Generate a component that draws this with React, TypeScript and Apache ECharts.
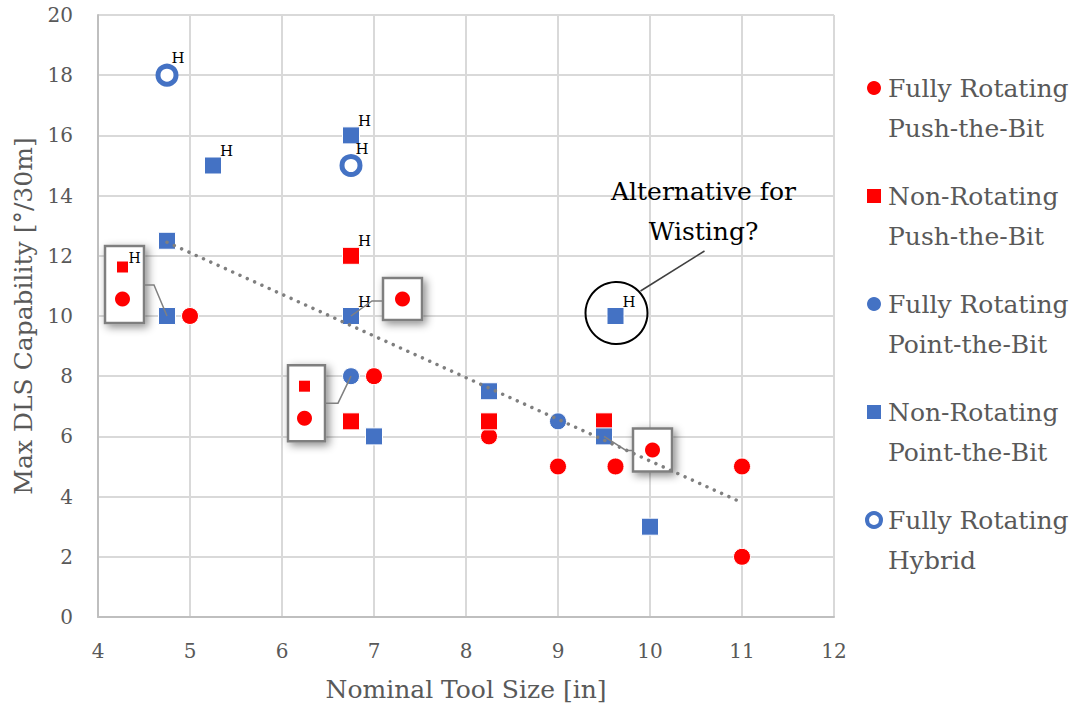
import React, { useEffect, useRef } from "react";
import * as echarts from "echarts";

const FONT = "'DejaVu Serif', serif";
const RED = "#FF0000";
const BLUE = "#4472C4";

const seriesNames = [
  "Fully Rotating\nPush-the-Bit",
  "Non-Rotating\nPush-the-Bit",
  "Fully Rotating\nPoint-the-Bit",
  "Non-Rotating\nPoint-the-Bit",
  "Fully Rotating\nHybrid",
];

type Pt = [number, number, string];
// [tool size in, max DLS deg/30m, label]
const frPush: Pt[] = [
  [4.75, 10, ""], [5, 10, ""], [6.75, 8, ""], [6.75, 10, ""], [7, 8, ""],
  [8.25, 6, ""], [9, 5, ""], [9.5, 6, ""], [9.625, 5, ""], [11, 5, ""], [11, 2, ""],
];
const nrPush: Pt[] = [
  [4.75, 10, "H"], [6.75, 12, "H"], [6.75, 6.5, ""], [6.75, 8, ""], [8.25, 6.5, ""], [9.5, 6.5, ""],
];
const frPoint: Pt[] = [[6.75, 8, ""], [9, 6.5, ""]];
const nrPoint: Pt[] = [
  [4.75, 12.5, ""], [5.25, 15, "H"], [6.75, 16, "H"], [4.75, 10, ""], [6.75, 10, "H"],
  [7, 6, ""], [8.25, 7.5, ""], [9.5, 6, ""], [9.625, 10, "H"], [10, 3, ""],
];
const hybrid: Pt[] = [[4.75, 18, "H"], [6.75, 15, "H"]];

const trendX = [4.75, 11];
const trendY = [12.45, 3.8];

const annotationText = "Alternative for\nWisting?";
const annotatedPoint = [9.625, 10];

const allData = [frPush, nrPush, frPoint, nrPoint, hybrid];
const styles = [
  { symbol: "circle", color: RED, hollow: false },
  { symbol: "rect", color: RED, hollow: false },
  { symbol: "circle", color: BLUE, hollow: false },
  { symbol: "rect", color: BLUE, hollow: false },
  { symbol: "circle", color: BLUE, hollow: true },
];

const same = (a: number[], b: number[]) => a[0] === b[0] && a[1] === b[1];
const isCovered = (si: number, p: number[]) =>
  allData.some((d, j) => j > si && d.some((q) => same(p, q)));

// callout insets: anchor data point, box rect relative to anchor pixel, connector elbow & end
const insets = [
  { at: [4.75, 10], box: [-62, -70, 39, 77], link: [[-13, -31], [-23, -31]] },
  { at: [6.75, 8], box: [-63, -11, 37, 76], link: [[-13, 27], [-26, 27]] },
  { at: [6.75, 10], box: [32, -38, 39, 42], link: [[21, -15], [32, -15]] },
  { at: [9.5, 6], box: [29, -8, 39, 43], link: [[22, 14], [29, 14]] },
];

export default function App() {
  const ref = useRef<HTMLDivElement>(null);
  useEffect(() => {
    if (!ref.current) return;
    const chart = echarts.init(ref.current, undefined, { renderer: "svg" });
    const labelStyle = {
      show: false,
      formatter: "H",
      position: [16, -13],
      fontFamily: FONT,
      fontSize: 15,
      color: "#000",
    };
    const series: any[] = allData.map((d, i) => {
      const st = styles[i];
      return {
        type: "scatter",
        name: seriesNames[i],
        symbol: st.symbol,
        symbolSize: st.hollow ? 18 : 17,
        silent: true,
        itemStyle: st.hollow
          ? { color: "#fff", borderColor: st.color, borderWidth: 5, opacity: 1 }
          : { color: st.color, borderColor: "#fff", borderWidth: 1, opacity: 1 },
        label: labelStyle,
        data: d.map((p) => {
          const covered = isCovered(i, p);
          return {
            value: [p[0], p[1]],
            itemStyle: covered ? { opacity: 0 } : undefined,
            label: { show: p[2] === "H" && !covered },
          };
        }),
        z: 2,
      };
    });
    series.push({
      type: "line",
      name: "trend",
      data: trendX.map((x, i) => [x, trendY[i]]),
      symbol: "none",
      silent: true,
      lineStyle: { color: "#7f7f7f", width: 3.5, type: [0.01, 8], cap: "round" },
      z: 3,
    });

    const axisText = { fontFamily: FONT, fontSize: 20, color: "#595959" };
    chart.setOption({
      animation: false,
      textStyle: { fontFamily: FONT },
      grid: { left: 98, right: 241, top: 15, bottom: 96, containLabel: false },
      xAxis: {
        type: "value",
        min: 4,
        max: 12,
        interval: 1,
        name: "Nominal Tool Size [in]",
        nameLocation: "middle",
        nameGap: 60,
        nameTextStyle: { fontFamily: FONT, fontSize: 25, color: "#595959" },
        axisLine: { show: true, lineStyle: { color: "#bfbfbf", width: 2 } },
        axisTick: { show: false },
        axisLabel: { ...axisText, margin: 24 },
        splitLine: { show: true, lineStyle: { color: "#d9d9d9", width: 2 } },
      },
      yAxis: {
        type: "value",
        min: 0,
        max: 20,
        interval: 2,
        name: "Max DLS Capability [°/30m]",
        nameLocation: "middle",
        nameGap: 62,
        nameTextStyle: { fontFamily: FONT, fontSize: 25, color: "#595959" },
        axisLine: { show: true, lineStyle: { color: "#bfbfbf", width: 2 } },
        axisTick: { show: false },
        axisLabel: { ...axisText, margin: 25 },
        splitLine: { show: true, lineStyle: { color: "#d9d9d9", width: 2 } },
      },
      legend: {
        orient: "vertical",
        left: 860,
        top: 23,
        itemWidth: 14,
        itemHeight: 14,
        itemGap: -12,
        selectedMode: false,
        formatter: (n: string) => "\n" + n,
        textStyle: {
          fontFamily: FONT,
          fontSize: 25,
          color: "#595959",
          lineHeight: 40,
          padding: [0, 0, 0, 2],
        },
        data: seriesNames.map((n, i) => ({
          name: n,
          icon: styles[i].symbol,
          itemStyle: styles[i].hollow
            ? { color: "#fff", borderColor: BLUE, borderWidth: 4, opacity: 1 }
            : { color: styles[i].color, borderWidth: 0, opacity: 1 },
        })),
      },
      series,
    });

    const px = (p: number[]) =>
      chart.convertToPixel({ xAxisIndex: 0, yAxisIndex: 0 }, [p[0], p[1]]) as number[];

    const graphic: any[] = [];
    insets.forEach((ins) => {
      const a = px(ins.at);
      const [bx, by, bw, bh] = ins.box;
      const left = a[0] + bx;
      const top = a[1] + by;
      graphic.push({
        type: "rect",
        z: 1,
        shape: { x: left, y: top, width: bw, height: bh },
        style: {
          fill: "#fff",
          stroke: "#7f7f7f",
          lineWidth: 2.5,
          shadowBlur: 8,
          shadowOffsetX: 3,
          shadowOffsetY: 3,
          shadowColor: "rgba(0,0,0,0.45)",
        },
      });
      graphic.push({
        type: "polyline",
        z: 4,
        shape: {
          points: [
            [a[0], a[1]],
            [a[0] + ins.link[0][0], a[1] + ins.link[0][1]],
            [a[0] + ins.link[1][0], a[1] + ins.link[1][1]],
          ],
        },
        style: { stroke: "#808080", lineWidth: 1.5, fill: null },
      });
      // hidden points at this location (all except the topmost series)
      const hidden: { si: number; p: Pt }[] = [];
      allData.forEach((d, si) =>
        d.forEach((p) => {
          if (same(p, ins.at) && isCovered(si, p)) hidden.push({ si, p });
        })
      );
      hidden.sort((u, v) => v.si - u.si);
      const n = hidden.length;
      hidden.forEach((h, k) => {
        const cx = left + bw / 2 - (n > 1 ? 2 : 0);
        const cy = n > 1 ? top + 21 + 32 * k : top + bh / 2;
        const st = styles[h.si];
        if (st.symbol === "rect") {
          graphic.push({
            type: "rect",
            z: 1.5,
            shape: { x: cx - 5.5, y: cy - 5.5, width: 11, height: 11 },
            style: { fill: st.color },
          });
        } else {
          graphic.push({
            type: "circle",
            z: 1.5,
            shape: { cx, cy, r: 7.5 },
            style: { fill: st.color },
          });
        }
        if (h.p[2] === "H") {
          graphic.push({
            type: "text",
            z: 1.5,
            x: cx + 12,
            y: cy - 9,
            style: {
              text: "H",
              fontFamily: FONT,
              fontSize: 14,
              fill: "#000",
              textAlign: "center",
              textVerticalAlign: "middle",
            },
          });
        }
      });
    });

    const an = px(annotatedPoint);
    graphic.push({
      type: "circle",
      z: 10,
      shape: { cx: an[0] + 1, cy: an[1] - 3, r: 31 },
      style: { fill: null, stroke: "#000", lineWidth: 2 },
    });
    graphic.push({
      type: "line",
      z: 10,
      shape: { x1: an[0] + 25, y1: an[1] - 25, x2: an[0] + 89, y2: an[1] - 65 },
      style: { stroke: "#404040", lineWidth: 1.5 },
    });
    graphic.push({
      type: "text",
      z: 10,
      x: an[0] + 88,
      y: an[1] - 145,
      style: {
        text: annotationText,
        fontFamily: FONT,
        fontSize: 25,
        lineHeight: 40,
        fill: "#000",
        textAlign: "center",
        textVerticalAlign: "top",
      },
    });

    chart.setOption({ graphic });

    return () => chart.dispose();
  }, []);

  return (
    <div
      ref={ref}
      style={{ position: "fixed", left: 0, top: 0, width: 1075, height: 713, background: "#fff" }}
    />
  );
}
